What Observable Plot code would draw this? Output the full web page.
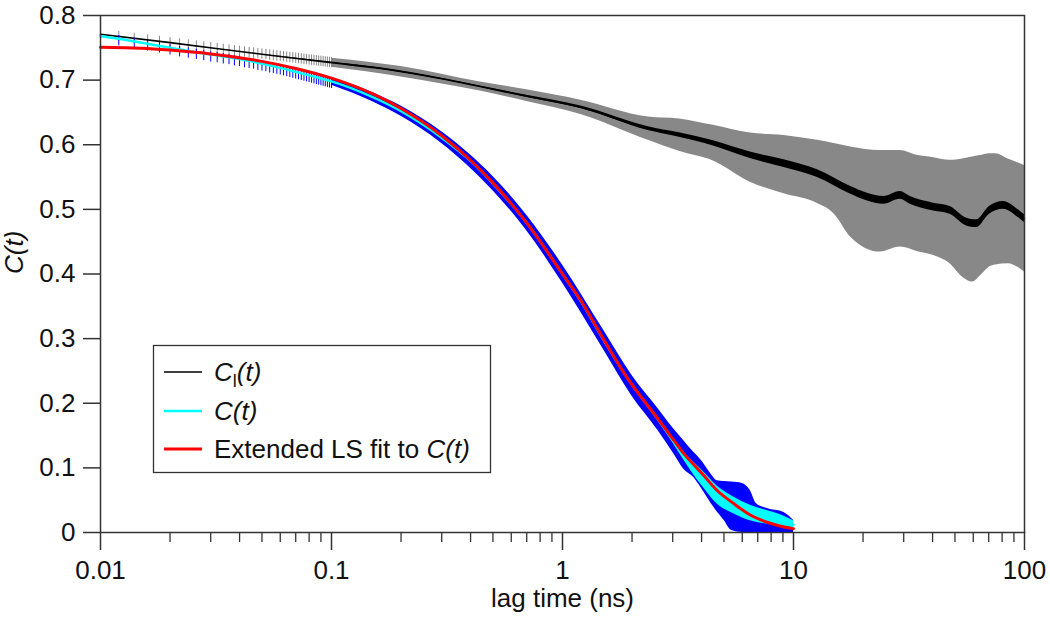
<!DOCTYPE html>
<html>
<head>
<meta charset="utf-8">
<script src="https://cdn.jsdelivr.net/npm/d3@7"></script>
<script src="https://cdn.jsdelivr.net/npm/@observablehq/plot@0.6"></script>
<style>
  html, body { margin: 0; padding: 0; background: white; }
  #chart { width: 1050px; height: 617px; }
</style>
</head>
<body>
<div id="chart"></div>
<script>
// ---------- Axis ticks ----------
const xMajor = [0.01, 0.1, 1, 10, 100];
const xMajorLabels = ["0.01", "0.1", "1", "10", "100"];
const xMinor = [0.02, 0.03, 0.04, 0.05, 0.06, 0.07, 0.08, 0.09,
                0.2, 0.3, 0.4, 0.5, 0.6, 0.7, 0.8, 0.9,
                2, 3, 4, 5, 6, 7, 8, 9,
                20, 30, 40, 50, 60, 70, 80, 90];
const yTicks = [0, 0.1, 0.2, 0.3, 0.4, 0.5, 0.6, 0.7, 0.8];
const yTickLabels = ["0", "0.1", "0.2", "0.3", "0.4", "0.5", "0.6", "0.7", "0.8"];

// ---------- C_l(t): black mean line ----------
const lagK = [0.01, 0.02, 0.05, 0.1, 0.163, 0.3, 0.44, 0.7, 1.2, 2.35, 3.2, 4.5, 6.5, 9.1, 12.7, 17.7, 20.9, 24.6, 29, 32, 40.4, 47.6, 56.2, 62, 70.5, 81, 94, 100];
const blackC = [0.771, 0.758, 0.740, 0.727, 0.718, 0.702, 0.690, 0.675, 0.658, 0.625, 0.615, 0.602, 0.5836, 0.5707, 0.5552, 0.5294, 0.519, 0.514, 0.5217, 0.514, 0.5036, 0.4985, 0.4804, 0.4778, 0.4985, 0.5062, 0.4933, 0.4856];
// jitter thickness of the black trace (half-width)
const blackSpread = [0, 0, 0, 0.001, 0.001, 0.001, 0.001, 0.0015, 0.002, 0.003, 0.0035, 0.004, 0.005, 0.006, 0.006, 0.006, 0.006, 0.006, 0.006, 0.006, 0.006, 0.006, 0.006, 0.006, 0.006, 0.006, 0.006, 0.006];

// C_l(t) error band (gray)
const lagG = [0.1, 0.2, 0.44, 0.7, 1.2, 2.35, 3.2, 4.5, 6.5, 9.1, 12.7, 15, 17.7, 23.7, 29, 34.2, 40.4, 47.6, 54, 59.5, 65.6, 70.5, 74.9, 85, 100];
const grayHi = [0.734, 0.721, 0.697, 0.685, 0.669, 0.643, 0.640, 0.630, 0.618, 0.6145, 0.607, 0.602, 0.5965, 0.591, 0.591, 0.5836, 0.580, 0.5759, 0.578, 0.581, 0.5836, 0.586, 0.586, 0.578, 0.568];
const grayLo = [0.720, 0.705, 0.683, 0.667, 0.647, 0.607, 0.590, 0.575, 0.542, 0.524, 0.509, 0.493, 0.457, 0.434, 0.4416, 0.435, 0.4288, 0.416, 0.395, 0.3875, 0.400, 0.4107, 0.414, 0.416, 0.403];

// ---------- early individual error bars (2 ps spacing) ----------
const lagE = [0.012, 0.014, 0.016, 0.018, 0.020, 0.022, 0.024, 0.026, 0.028, 0.030,
              0.032, 0.034, 0.036, 0.038, 0.040, 0.042, 0.044, 0.046, 0.048, 0.050,
              0.052, 0.054, 0.056, 0.058, 0.060, 0.062, 0.064, 0.066, 0.068, 0.070,
              0.072, 0.074, 0.076, 0.078, 0.080, 0.082, 0.084, 0.086, 0.088, 0.090,
              0.092, 0.094, 0.096, 0.098, 0.100];
const blackE = [0.7675, 0.7646, 0.7620, 0.7598, 0.7578, 0.7560, 0.7543, 0.7528, 0.7514, 0.7501,
                0.7488, 0.7477, 0.7466, 0.7455, 0.7446, 0.7436, 0.7427, 0.7419, 0.7411, 0.7403,
                0.7396, 0.7388, 0.7382, 0.7375, 0.7368, 0.7362, 0.7356, 0.7350, 0.7345, 0.7339,
                0.7334, 0.7328, 0.7323, 0.7318, 0.7314, 0.7309, 0.7304, 0.7300, 0.7295, 0.7291,
                0.7287, 0.7283, 0.7279, 0.7275, 0.7271];
const cyanE = [0.764, 0.760, 0.756, 0.753, 0.750, 0.747, 0.745, 0.743, 0.741, 0.739,
               0.738, 0.736, 0.735, 0.733, 0.732, 0.730, 0.729, 0.728, 0.726, 0.725,
               0.724, 0.722, 0.721, 0.720, 0.719, 0.7176, 0.7163, 0.7150, 0.7138, 0.7126,
               0.7115, 0.7104, 0.7093, 0.7082, 0.7072, 0.7062, 0.7052, 0.7042, 0.7033, 0.7023,
               0.7014, 0.7006, 0.6997, 0.6988, 0.6980];
const grayErrE = 0.008;      // half-length of early C_l(t) error bars
const blueErrUpE = 0.005;    // early C(t) error bar, above
const blueErrDownE = 0.011;  // early C(t) error bar, below

// ---------- C(t): cyan mean line ----------
const lagC = [0.01, 0.012, 0.015, 0.02, 0.027, 0.035, 0.045, 0.06, 0.075, 0.087, 0.1, 0.15, 0.2, 0.3, 0.4, 0.5, 0.7, 1, 1.2, 1.5, 1.9, 2.6, 3, 3.35, 3.72, 4, 4.67, 5.5, 6.5, 8, 9, 10];
const cyanC = [0.768, 0.764, 0.758, 0.750, 0.742, 0.736, 0.729, 0.719, 0.710, 0.704, 0.698, 0.674, 0.652, 0.611, 0.575, 0.540, 0.479, 0.400, 0.358, 0.299, 0.240, 0.174, 0.143, 0.118, 0.098, 0.085, 0.058, 0.042, 0.030, 0.022, 0.018, 0.012];
const cyanSpread = [0, 0, 0, 0, 0, 0, 0, 0, 0, 0, 0, 0, 0, 0, 0, 0, 0, 0, 0, 0, 0.001, 0.002, 0.004, 0.006, 0.010, 0.012, 0.014, 0.013, 0.012, 0.010, 0.008, 0.006];

// C(t) error band (blue)
const lagB = [0.1, 0.15, 0.2, 0.3, 0.5, 0.7, 1, 1.5, 2, 2.6, 3, 3.35, 3.7, 4, 4.4, 4.67, 5, 5.4, 6, 6.5, 6.9, 7.7, 9.1, 10];
const blueHi = [0.704, 0.681, 0.660, 0.620, 0.551, 0.491, 0.414, 0.314, 0.243, 0.191, 0.162, 0.142, 0.124, 0.111, 0.090, 0.080, 0.079, 0.078, 0.076, 0.065, 0.045, 0.037, 0.031, 0.019];
const blueLo = [0.692, 0.667, 0.644, 0.602, 0.529, 0.467, 0.386, 0.284, 0.211, 0.157, 0.124, 0.098, 0.085, 0.068, 0.045, 0.032, 0.019, 0.003, 0, 0, 0, 0, 0, 0];

// ---------- Extended LS fit (red) ----------
const lagR = [0.01, 0.015, 0.02, 0.03, 0.05, 0.07, 0.1, 0.15, 0.2, 0.3, 0.4, 0.5, 0.7, 1, 1.2, 1.5, 1.9, 2.6, 3, 3.35, 3.72, 4, 4.67, 5.5, 6.5, 8, 9, 10];
const redC = [0.751, 0.7495, 0.7465, 0.7405, 0.729, 0.718, 0.703, 0.679, 0.656, 0.614, 0.576, 0.541, 0.479, 0.400, 0.359, 0.300, 0.240, 0.175, 0.145, 0.122, 0.104, 0.092, 0.065, 0.045, 0.027, 0.014, 0.009, 0.006];

// ---------- Legend ----------
const legendColors = ["#000000", "#00ffff", "#ff0000"];
const legendWidths = [1.5, 2.5, 3];

const FONT = "'Liberation Sans', Arial, Helvetica, sans-serif";
const AX = "#333333";
const FS = 26;

const chart = Plot.plot({
  width: 1050,
  height: 617,
  marginLeft: 100,
  marginRight: 26,
  marginTop: 15,
  marginBottom: 85,
  style: { fontFamily: FONT, fontSize: FS + "px", background: "white", color: "#111" },
  x: { type: "log", domain: [0.01, 100] },
  y: { domain: [0, 0.8] },
  marks: [
    // C_l(t) gray error band
    Plot.areaY(lagG, { x: lagG, y1: grayLo, y2: grayHi, fill: "#888888", curve: "monotone-x" }),
    Plot.ruleX(lagE, { x: lagE, y1: blackE.map(v => v - grayErrE), y2: blackE.map(v => v + grayErrE), stroke: "#888888", strokeWidth: 1 }),
    // black trace
    Plot.areaY(lagK, { x: lagK, y1: blackC.map((v, i) => v - blackSpread[i]), y2: blackC.map((v, i) => v + blackSpread[i]), fill: "#000", curve: "monotone-x" }),
    Plot.line(lagK, { x: lagK, y: blackC, stroke: "#000", strokeWidth: 1.6, curve: "monotone-x" }),
    // C(t) blue error band
    Plot.areaY(lagB, { x: lagB, y1: blueLo, y2: blueHi, fill: "#0000ff", curve: "monotone-x" }),
    Plot.ruleX(lagE, { x: lagE, y1: cyanE.map(v => v - blueErrDownE), y2: cyanE.map(v => v + blueErrUpE), stroke: "#0000ff", strokeWidth: 1 }),
    // cyan trace
    Plot.areaY(lagC, { x: lagC, y1: cyanC.map((v, i) => Math.max(0, v - cyanSpread[i])), y2: cyanC.map((v, i) => v + cyanSpread[i]), fill: "#00ffff", curve: "monotone-x" }),
    Plot.line(lagC, { x: lagC, y: cyanC, stroke: "#00ffff", strokeWidth: 2.5, curve: "monotone-x" }),
    // red fit
    Plot.line(lagR, { x: lagR, y: redC, stroke: "#ff0000", strokeWidth: 3, curve: "monotone-x" }),
    // frame and axes
    Plot.frame({ stroke: AX, strokeWidth: 1.5 }),
    Plot.axisY({ ticks: yTicks, tickSize: 17, tickPadding: 8, fontSize: FS, tickFormat: d => yTickLabels[yTicks.indexOf(d)], label: null, stroke: AX, strokeWidth: 1.5 }),
    Plot.axisX({ ticks: xMajor, tickSize: 18, tickPadding: 10, fontSize: FS, tickFormat: d => xMajorLabels[xMajor.indexOf(d)], label: null, stroke: AX, strokeWidth: 1.5 }),
    Plot.axisX({ ticks: xMinor, tickSize: 10, tickFormat: () => "", label: null, stroke: AX, strokeWidth: 1.3 }),
    // axis titles
    Plot.text(["lag time (ns)"], { frameAnchor: "bottom", dy: 66, lineAnchor: "middle", fontSize: FS, fill: "#111" }),
    Plot.text(["C(t)"], { frameAnchor: "left", dx: -86, rotate: -90, lineAnchor: "middle", fontSize: FS, fontStyle: "italic", fill: "#111" })
  ]
});

document.getElementById("chart").appendChild(chart);

// Legend drawn into the SVG
const svg = d3.select(chart);
const lg = svg.append("g").attr("font-family", FONT).attr("font-size", FS).attr("fill", "#111").attr("text-anchor", "start");
lg.append("rect").attr("x", 153.5).attr("y", 345.5).attr("width", 337).attr("height", 127)
  .attr("fill", "white").attr("stroke", AX).attr("stroke-width", 1.3);
const rowY = [372, 411, 449];
legendColors.forEach((c, i) => {
  lg.append("line").attr("x1", 164).attr("x2", 202).attr("y1", rowY[i]).attr("y2", rowY[i])
    .attr("stroke", c).attr("stroke-width", legendWidths[i]);
});
// row 1: C_l(t)
{
  const t = lg.append("text").attr("x", 214).attr("y", rowY[0] + 9);
  t.append("tspan").attr("font-style", "italic").text("C");
  t.append("tspan").attr("font-size", 18).attr("dy", 6).text("l");
  t.append("tspan").attr("font-style", "italic").attr("dy", -6).text("(t)");
}
// row 2: C(t)
{
  const t = lg.append("text").attr("x", 214).attr("y", rowY[1] + 9);
  t.append("tspan").attr("font-style", "italic").text("C(t)");
}
// row 3
{
  const t = lg.append("text").attr("x", 214).attr("y", rowY[2] + 9);
  t.append("tspan").text("Extended LS fit to ");
  t.append("tspan").attr("font-style", "italic").text("C(t)");
}
</script>
</body>
</html>
